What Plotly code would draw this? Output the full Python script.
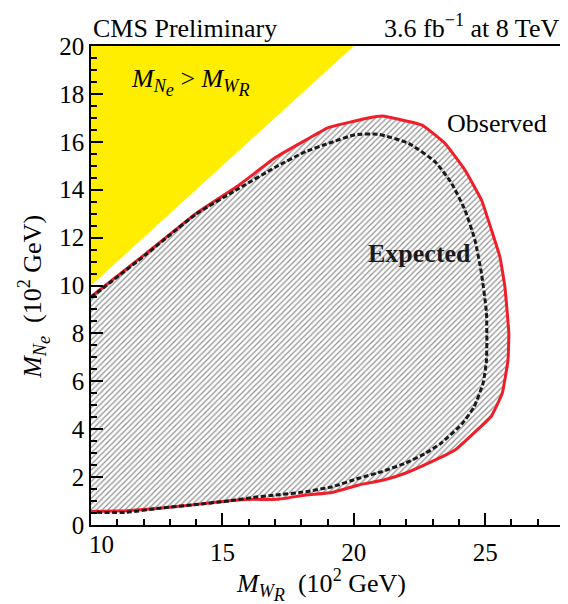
import plotly.graph_objects as go

# Observed exclusion contour (M_WR, M_Ne) in 10^2 GeV
obs_x = [10.0, 12.1, 14.0, 15.64, 17.03, 18.17, 19.05, 20.5, 21.07, 22.6, 23.47, 24.23, 24.86,
         25.24, 25.56, 25.75, 25.9, 25.87, 25.65, 25.24, 24.7, 23.85, 22.84, 21.96, 21.14,
         20.19, 19.18, 18.17, 17.1, 16.15, 15.27, 13.88, 12.61, 11.35, 10.0]
obs_y = [9.53, 11.34, 13.01, 14.2, 15.35, 16.07, 16.6, 16.98, 17.08, 16.7, 15.94, 14.82, 13.57,
         12.32, 11.2, 9.95, 8.0, 6.89, 5.5, 4.55, 3.97, 3.13, 2.58, 2.16, 1.88,
         1.67, 1.36, 1.25, 1.07, 1.07, 1.01, 0.84, 0.7, 0.6, 0.56]

# Expected exclusion contour
exp_x = [10.0, 12.1, 14.0, 15.64, 17.03, 18.17, 19.05, 20.06, 20.95, 22.08, 23.09, 23.72, 24.23,
         24.61, 24.86, 25.05, 25.05, 24.92, 24.58, 24.1, 23.3, 22.72, 21.96, 21.07, 20.19,
         19.18, 18.17, 17.03, 16.15, 15.27, 13.88, 12.61, 11.35, 10.17]
exp_y = [9.5, 11.3, 12.98, 14.06, 14.95, 15.59, 15.94, 16.3, 16.31, 15.94, 15.17, 14.27, 13.15,
         11.9, 10.5, 8.84, 6.89, 5.92, 4.94, 4.2, 3.4, 2.99, 2.58, 2.23, 1.95,
         1.6, 1.39, 1.25, 1.15, 1.01, 0.84, 0.7, 0.53, 0.53]

# Kinematically forbidden region M_Ne > M_WR
forb_x = [10, 10, 20]
forb_y = [10, 20, 20]

x_tickvals = [10, 15, 20, 25]
x_ticktext = ["", "15", "20", "25"]
y_tickvals = [0, 2, 4, 6, 8, 10, 12, 14, 16, 18, 20]
y_ticktext = [str(v) for v in y_tickvals]

FONT = "Liberation Serif"
FS = 25

# two-level subscript helper: second level keeps ~70% size, just lower
def sub2(a, b):
    return ("<sub><i>%s</i><sub><span style='font-size:143%%'><i>%s</i></span></sub></sub>" % (a, b))

fig = go.Figure()

fig.add_trace(go.Scatter(
    x=obs_x, y=obs_y, mode="lines", fill="toself",
    line=dict(width=0, color="rgba(0,0,0,0)"),
    fillcolor="white",
    fillpattern=dict(shape="/", size=4, solidity=0.3, fgcolor="#222222", bgcolor="white"),
    hoverinfo="skip", showlegend=False))

fig.add_trace(go.Scatter(
    x=forb_x, y=forb_y, mode="lines", fill="toself",
    line=dict(width=0, color="#ffee00"), fillcolor="#ffee00",
    hoverinfo="skip", showlegend=False))

fig.add_trace(go.Scatter(
    x=obs_x, y=obs_y, mode="lines",
    line=dict(color="#f01e28", width=3, shape="spline", smoothing=0.3),
    showlegend=False))

fig.add_trace(go.Scatter(
    x=exp_x, y=exp_y, mode="lines",
    line=dict(color="#1a1a1a", width=3, dash="5px,2.5px", shape="spline", smoothing=0.5),
    showlegend=False))

axis_common = dict(
    showline=True, mirror=True, linecolor="black", linewidth=1.5,
    ticks="inside", ticklen=12, tickwidth=1.5, tickcolor="black",
    showgrid=False, zeroline=False,
    tickfont=dict(family=FONT, size=FS, color="black"),
)

fig.update_xaxes(range=[10, 28], tickmode="array", tickvals=x_tickvals, ticktext=x_ticktext,
                 minor=dict(dtick=1, ticklen=6, tickwidth=1.5, tickcolor="black", ticks="inside"),
                 ticklabelstandoff=4, **axis_common)
fig.update_yaxes(range=[0, 20], tickmode="array", tickvals=y_tickvals, ticktext=y_ticktext,
                 minor=dict(dtick=0.5, ticklen=6, tickwidth=1.5, tickcolor="black", ticks="inside"),
                 ticklabelstandoff=0, **axis_common)

ann = []
# shifted first x tick label
ann.append(dict(x=10.4, y=0, xref="x", yref="y", yshift=-19, text="10", showarrow=False,
                font=dict(family=FONT, size=FS, color="black"), xanchor="center", yanchor="middle"))
ann.append(dict(x=0.0, y=1.0, xref="paper", yref="paper", yshift=18, text="CMS Preliminary",
                showarrow=False, font=dict(family=FONT, size=26, color="black"),
                xanchor="left", yanchor="middle"))
ann.append(dict(x=0.994, y=1.0, xref="paper", yref="paper", yshift=20,
                text="3.6 fb<sup>−1</sup> at 8 TeV",
                showarrow=False, font=dict(family=FONT, size=26, color="black"),
                xanchor="right", yanchor="middle"))
ann.append(dict(x=23.47, y=16.78, xref="x", yref="y", text="Observed", showarrow=False,
                font=dict(family=FONT, size=26, color="black"), xanchor="left", yanchor="middle"))
ann.append(dict(x=20.47, y=11.32, xref="x", yref="y", text="<b>Expected</b>", showarrow=False,
                font=dict(family=FONT, size=26, color="#1a1a1a"), xanchor="left", yanchor="middle"))
ann.append(dict(x=11.45, y=18.5, xref="x", yref="y",
                text="<i>M</i>" + sub2("N", "e") + " > <i>M</i>" + sub2("W", "R"),
                showarrow=False, font=dict(family=FONT, size=26, color="black"),
                xanchor="left", yanchor="middle"))
ann.append(dict(x=0.4855, y=0, xref="paper", yref="paper", yshift=-60,
                text="<i>M</i>" + sub2("W", "R") + "  (10<sup>2</sup> GeV)",
                showarrow=False, font=dict(family=FONT, size=26, color="black"),
                xanchor="center", yanchor="middle"))
ann.append(dict(x=-0.122, y=0.477, xref="paper", yref="paper", textangle=-90,
                text="<i>M</i>" + sub2("N", "e") + "  (10<sup>2</sup> GeV)",
                showarrow=False, font=dict(family=FONT, size=26, color="black"),
                xanchor="center", yanchor="middle"))

# the page body adds an 8px offset; size the figure so the plot frame lands where the reference has it
fig.update_layout(
    width=560, height=596,
    margin=dict(l=83, r=2, t=38, b=79),
    paper_bgcolor="white", plot_bgcolor="white",
    annotations=ann, showlegend=False,
)

fig.write_html("out.html")
